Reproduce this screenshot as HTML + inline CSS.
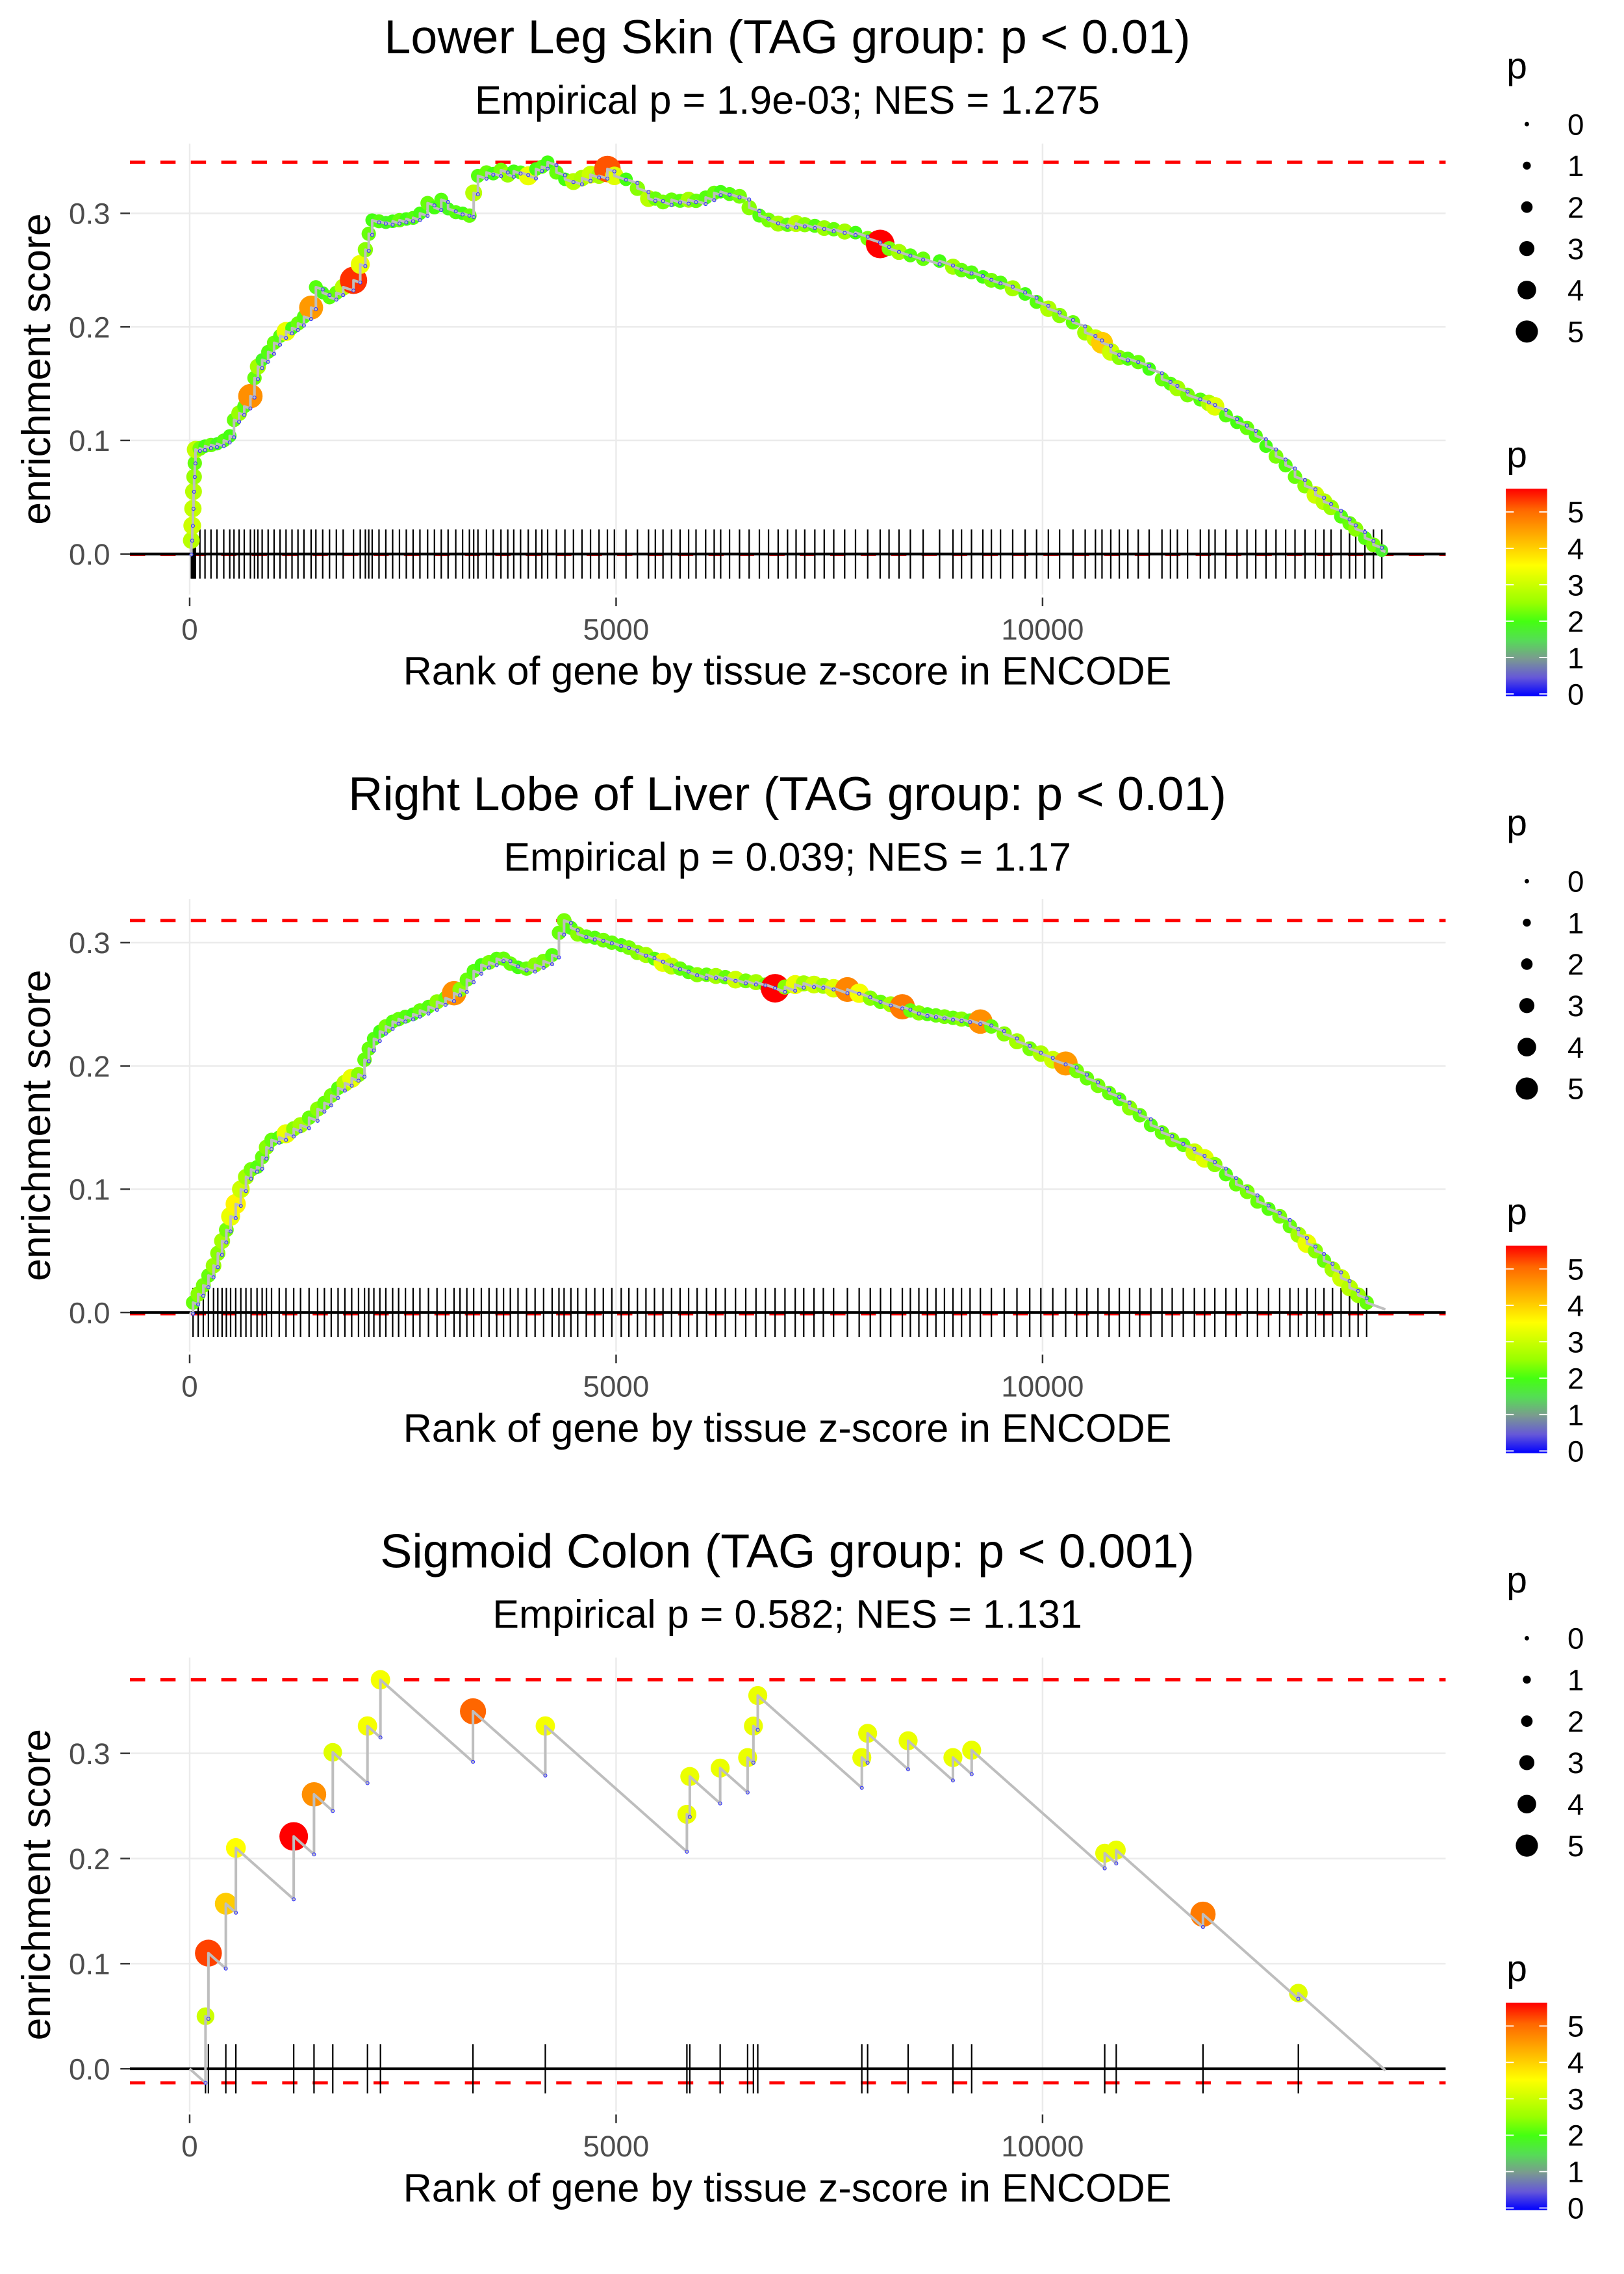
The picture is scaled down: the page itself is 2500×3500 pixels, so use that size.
<!DOCTYPE html>
<html><head><meta charset="utf-8"><style>
html,body{margin:0;padding:0;background:#fff;}
svg{display:block;font-family:"Liberation Sans",sans-serif;}
</style></head><body>
<svg id="chart" xmlns="http://www.w3.org/2000/svg" width="2500" height="3500" viewBox="0 0 1120 1568">
<defs>
<linearGradient id="pgrad" x1="0" y1="1" x2="0" y2="0">
<stop offset="0" stop-color="#0000ff"/><stop offset="0.09" stop-color="#6658d8"/>
<stop offset="0.18" stop-color="#7a9a90"/><stop offset="0.27" stop-color="#55dd55"/>
<stop offset="0.36" stop-color="#44ff11"/><stop offset="0.45" stop-color="#99ff00"/>
<stop offset="0.54" stop-color="#ccff00"/><stop offset="0.63" stop-color="#ffff00"/>
<stop offset="0.72" stop-color="#ffcc00"/><stop offset="0.81" stop-color="#ff9900"/>
<stop offset="0.9" stop-color="#ff6600"/><stop offset="1" stop-color="#ff0000"/>
</linearGradient>
</defs>
</svg>
<script>
// ---- Panel 1: Lower Leg Skin ----
const ranks1=[20,30,38,45,52,60,68,120,180,250,320,400,470,520,580,640,712,760,800,850,920,990,1060,1130,1200,1270,1340,1424,1480,1560,1640,1720,1800,1921,2000,2060,2100,2140,2220,2300,2380,2460,2540,2620,2700,2790,2870,2950,3030,3120,3200,3280,3330,3380,3480,3560,3650,3730,3800,3880,3970,4060,4130,4197,4300,4400,4500,4600,4700,4800,4898,4980,5116,5250,5380,5460,5550,5650,5750,5850,5937,6050,6150,6226,6330,6447,6560,6680,6787,6900,7010,7110,7212,7330,7440,7552,7680,7807,7950,8096,8200,8317,8450,8600,8793,8950,9050,9167,9300,9400,9507,9650,9796,9930,10068,10200,10357,10500,10620,10697,10800,10900,11000,11122,11250,11400,11500,11581,11700,11850,11950,12023,12150,12280,12397,12500,12620,12737,12850,12960,13077,13200,13300,13383,13500,13600,13672,13780,13880,13978];
const es1=[.012,.025,.04,.055,.068,.08,.092,.093,.095,.096,.097,.1,.104,.118,.124,.13,.139,.155,.165,.171,.178,.186,.192,.196,.199,.203,.209,.217,.235,.23,.226,.23,.235,.241,.255,.268,.282,.294,.293,.292,.293,.294,.295,.296,.3,.309,.305,.312,.304,.301,.3,.298,.318,.333,.336,.335,.338,.334,.337,.336,.333,.339,.341,.345,.336,.33,.328,.331,.334,.333,.339,.333,.33,.322,.313,.313,.31,.312,.311,.312,.311,.314,.318,.319,.317,.315,.305,.298,.294,.291,.29,.291,.29,.289,.287,.286,.284,.283,.278,.273,.269,.266,.263,.26,.258,.253,.25,.248,.244,.241,.239,.234,.229,.222,.216,.21,.204,.195,.19,.186,.178,.173,.172,.169,.163,.154,.15,.146,.14,.136,.133,.13,.122,.116,.111,.104,.095,.086,.078,.068,.06,.052,.046,.041,.033,.027,.022,.014,.008,.003];
const pv1=[2.8,3,2.9,2.8,2.5,2.2,2.9,2.3,2,2.2,1.9,2.1,2,2.2,2.5,2.1,4.6,2.2,2.6,1.9,2.1,2.2,2.1,3.3,2,2.2,2.1,4.5,2.1,1.9,2.1,2.2,2.8,5.3,3.3,2.4,2.2,2,2.1,1.9,2,2.2,2,2.1,2,2.2,2,2.1,1.9,2.1,2,2.2,2.8,2.1,2.2,2,2.3,2.5,2,2.1,3.3,2,2.1,2,2.2,2,2.8,2.7,3,2.6,5.1,3.2,2,2.4,2.8,2.2,2.3,2.2,2.1,2.6,2.2,2.1,2.2,2,2.1,2.3,2.4,2.1,2.3,2.6,2.2,2.8,2.4,2.1,2.5,2.2,2.6,2,2.3,5.6,2.3,2.6,2.1,2.2,2,2.6,2.2,2.1,2,2.3,2.1,2.6,2,2.1,2.7,2.4,2.2,2.6,3,4,3,2.4,2.1,2.2,2,2.2,2.1,2.6,2.3,2.1,2.7,3.2,2.1,2,2.2,2.1,2,2.3,2.1,2.2,2.4,3,2.8,2.5,2.1,2.2,2.4,2.1,2.3,1.8];

// ---- Panel 2: Right Lobe of Liver ----
const ranks2=[40,100,160,220,280,330,380,430,480,540,600,660,720,790,850,900,960,1050,1130,1220,1300,1400,1500,1580,1660,1740,1820,1900,1980,2050,2100,2160,2230,2300,2380,2450,2530,2620,2700,2800,2900,3000,3100,3170,3250,3330,3420,3510,3600,3680,3760,3850,3950,4050,4150,4250,4330,4390,4470,4550,4650,4750,4850,4950,5060,5150,5250,5350,5450,5550,5650,5750,5850,5950,6060,6170,6280,6400,6520,6640,6750,6864,6980,7100,7200,7320,7430,7550,7712,7850,7980,8100,8220,8356,8450,8550,8650,8750,8850,8950,9050,9150,9271,9400,9550,9700,9850,9980,10120,10271,10400,10520,10650,10780,10900,11020,11140,11270,11400,11520,11650,11780,11900,12020,12150,12270,12400,12520,12650,12780,12900,13000,13100,13200,13300,13400,13500,13600,13700,13800];
const es2=[.008,.015,.022,.03,.038,.048,.058,.067,.078,.088,.1,.11,.116,.118,.126,.134,.14,.142,.145,.149,.152,.158,.165,.17,.176,.182,.186,.19,.193,.205,.214,.222,.228,.232,.236,.238,.24,.242,.245,.248,.252,.255,.259,.262,.27,.277,.282,.284,.287,.287,.283,.28,.279,.282,.285,.29,.308,.318,.312,.307,.305,.304,.302,.3,.298,.296,.292,.29,.287,.284,.281,.279,.276,.274,.274,.273,.272,.27,.269,.268,.266,.263,.264,.266,.267,.266,.265,.263,.262,.259,.255,.252,.25,.248,.245,.243,.242,.241,.24,.239,.238,.237,.236,.232,.226,.22,.214,.21,.205,.202,.196,.19,.184,.178,.173,.166,.16,.152,.146,.14,.136,.13,.125,.12,.112,.104,.098,.09,.084,.078,.07,.063,.056,.05,.042,.035,.028,.02,.014,.008];
const pv2=[2.2,2.4,2.3,2.2,2.5,2.4,2.6,2.3,3.3,3.6,3,2.6,2.3,2.1,2.2,2.4,2.2,2.1,3.3,2.4,2.6,2.2,2.4,2.2,2.3,2.1,2.8,3.3,2.4,2.2,2.2,2.1,2,2.3,2.1,2.2,2.1,2,2.2,2.1,2.4,2.2,4.6,2.4,2.2,2.1,2,2.3,2.1,2.2,2.2,2,2.2,2.4,2.3,2.1,2.2,2.3,2.1,2.4,2.2,2.1,2.3,2.2,2.1,2.3,2.4,2.6,2.1,3.3,2.8,2.2,2.1,2.4,2.2,2.6,2.2,3,2.3,2.6,2.2,5.6,2.4,3.3,2.6,3,2.6,3.2,4.7,3.4,2.4,2.2,2.6,4.8,2.2,2.4,2.1,2.2,2.3,2.2,2.4,2.1,4.6,2.2,2.4,2.6,2.3,2.7,3,4.5,2.3,2.2,2.3,2.2,2.1,2.4,2.2,2.1,2.2,2.3,2.2,3,3.2,2.4,2.1,2.2,2.3,2.2,2.1,2.3,2.2,2.6,3.3,2.4,2.2,2.6,3,2.8,2.5,2.2];

// ---- Panel 3: Sigmoid Colon ----
const ranks3=[186,220,424,542,1220,1458,1678,2085,2237,3322,4170,5830,5864,6220,6542,6610,6661,7881,7949,8424,8949,9169,10729,10864,11881,12999];
const es3=[.05,.11,.157,.21,.221,.261,.301,.326,.37,.34,.326,.242,.278,.286,.296,.326,.355,.296,.319,.312,.296,.303,.205,.208,.147,.072];
const pv3=[3,5.2,4,3.5,5.6,4.6,3.2,3.4,3.4,5,3.4,3.3,3.3,3.3,3.3,3.3,3.3,3.3,3.3,3.3,3.3,3.3,3.3,3.3,4.8,3.2];

const titles=["Lower Leg Skin (TAG group: p < 0.01)","Right Lobe of Liver (TAG group: p < 0.01)","Sigmoid Colon (TAG group: p < 0.001)"];
const subtitles=["Empirical p = 1.9e-03; NES = 1.275","Empirical p = 0.039; NES = 1.17","Empirical p = 0.582; NES = 1.131"];
const xTicks=[0,5000,10000];
const yTicks=[0,0.1,0.2,0.3];
const yTickLabels=["0.0","0.1","0.2","0.3"];
const sizeLegend=[0,1,2,3,4,5];
const totalGenes=14020;

const svg=document.getElementById('chart');
const NS='http://www.w3.org/2000/svg';
function mk(tag,attrs,parent){const e=document.createElementNS(NS,tag);for(const k in attrs)e.setAttribute(k,attrs[k]);(parent||svg).appendChild(e);return e;}

const stops=[[0,[0,0,255]],[0.5,[102,88,216]],[1,[122,154,144]],[1.5,[85,221,85]],[2,[68,255,17]],[2.5,[153,255,0]],[3,[204,255,0]],[3.5,[255,255,0]],[4,[255,204,0]],[4.5,[255,153,0]],[5,[255,102,0]],[5.57,[255,0,0]]];
function pColor(p){p=Math.max(0,Math.min(5.57,p));for(let i=1;i<stops.length;i++){if(p<=stops[i][0]){const a=stops[i-1],b=stops[i];const t=(p-a[0])/(b[0]-a[0]);const c=a[1].map((v,j)=>Math.round(v+(b[1][j]-v)*t));return 'rgb('+c.join(',')+')';}}return 'rgb(255,0,0)';}
function pRadius(p){return 1.8+1.44*p;}

const panels=[
 {ranks:ranks1,es:es1,pv:pv1,zero:382,k:783,top:99,bottom:410,decline:2.5e-5},
 {ranks:ranks2,es:es2,pv:pv2,zero:905,k:850,top:620,bottom:932,decline:2.5e-5},
 {ranks:ranks3,es:es3,pv:pv3,zero:1426.5,k:725,top:1143,bottom:1456,decline:7.2e-5}
];
const L=89.6,R=997;
function xs(r){return 130.8+r*0.05882;}

panels.forEach((P,pi)=>{
 const off=522*pi;
 const ys=v=>P.zero-v*P.k;
 const g=mk('g',{});
 
 
 let t=mk('text',{x:543,y:36.7+off,'text-anchor':'middle','font-size':33,fill:'#000'},g);t.textContent=titles[pi];
 
 
 t=mk('text',{x:543,y:78.4+off,'text-anchor':'middle','font-size':27.4,fill:'#000'},g);t.textContent=subtitles[pi];
 
 
 yTicks.forEach((v,i)=>{
  const gl=mk('line',{x1:L,x2:R,y1:ys(v),y2:ys(v),stroke:'#ebebeb','stroke-width':1.1},g);
  
  
  const tk=mk('line',{x1:83,x2:89.6,y1:ys(v),y2:ys(v),stroke:'#333','stroke-width':1.1},g);
  
  
  const lb=mk('text',{x:76,y:ys(v)+7.3,'text-anchor':'end','font-size':20.5,fill:'#4d4d4d'},g);lb.textContent=yTickLabels[i];
  
  
 });
 xTicks.forEach(v=>{
  const gl=mk('line',{x1:xs(v),x2:xs(v),y1:P.top,y2:P.bottom,stroke:'#ebebeb','stroke-width':1.1},g);
  
  
  const tk=mk('line',{x1:xs(v),x2:xs(v),y1:P.bottom+2,y2:P.bottom+8,stroke:'#333','stroke-width':1.1},g);
  
  
  const lb=mk('text',{x:xs(v),y:P.bottom+31,'text-anchor':'middle','font-size':20.5,fill:'#4d4d4d'},g);lb.textContent=String(v);
  
  
 });
 t=mk('text',{x:543,y:P.bottom+62,'text-anchor':'middle','font-size':27.4,fill:'#000'},g);t.textContent='Rank of gene by tissue z-score in ENCODE';
 
 
 const cy=(P.top+P.bottom)/2;
 t=mk('text',{x:34.5,y:cy,'text-anchor':'middle','font-size':28,fill:'#000',transform:'rotate(-90 34.5 '+cy+')'},g);t.textContent='enrichment score';
 
 
 const pre=[];let prevR=0,prevE=0;
 P.ranks.forEach((r,i)=>{pre.push(prevE-P.decline*(r-prevR));prevR=r;prevE=P.es[i];});
 const endE=prevE-P.decline*(totalGenes-prevR);
 const maxE=Math.max(...P.es),minE=Math.min(0,...pre,endE);
 [maxE,minE].forEach((v,i)=>{
  const dl=mk('line',{x1:L,x2:R,y1:ys(v),y2:ys(v),stroke:'#ff0000','stroke-width':2.2,'stroke-dasharray':'10.5 10.5'},g);
  
  
 });
 const zl=mk('line',{x1:L,x2:R,y1:ys(0),y2:ys(0),stroke:'#000','stroke-width':1.8},g);
 
 
 P.ranks.forEach(r=>{
  const rl=mk('line',{x1:xs(r),x2:xs(r),y1:ys(0)-17,y2:ys(0)+17,stroke:'#000','stroke-width':1.0},g);
  
  
 });
 P.ranks.forEach((r,i)=>{
  const c=mk('circle',{cx:xs(r),cy:ys(P.es[i]),r:pRadius(P.pv[i]),fill:pColor(P.pv[i])},g);
  
  
 });
 let d='M'+xs(0)+' '+ys(0);
 P.ranks.forEach((r,i)=>{d+=' L'+xs(r)+' '+ys(pre[i])+' L'+xs(r)+' '+ys(P.es[i]);});
 d+=' L'+xs(totalGenes)+' '+ys(endE);
 const pl=mk('path',{d:d,fill:'none',stroke:'#bebebe','stroke-width':1.8,'stroke-linejoin':'round'},g);
 
 
 P.ranks.forEach((r,i)=>{
  const c=mk('circle',{cx:xs(r),cy:ys(pre[i]),r:1.1,fill:'none',stroke:'#3333ff','stroke-width':0.5},g);
  
  
 });
 const lg=mk('g',{},g);
 
 
 t=mk('text',{x:1039,y:54+off,'font-size':25.5,fill:'#000'},lg);t.textContent='p';
 
 
 sizeLegend.forEach((v,j)=>{
  const yy=85.6+28.6*j+off;
  const c=mk('circle',{cx:1053,cy:yy,r:pRadius(v)*0.85,fill:'#000'},lg);
  
  
  const lb=mk('text',{x:1081,y:yy+7.3,'font-size':20.5,fill:'#000'},lg);lb.textContent=String(v);
  
  
 });
 const cg=mk('g',{},g);
 
 
 t=mk('text',{x:1039,y:322+off,'font-size':25.5,fill:'#000'},cg);t.textContent='p';
 
 
 const bar=mk('rect',{x:1038.5,y:337+off,width:28.5,height:143,fill:'url(#pgrad)'},cg);
 
 
 sizeLegend.forEach(v=>{
  const yy=478.5-25.1*v+off;
  mk('line',{x1:1038.5,x2:1044,y1:yy,y2:yy,stroke:'#fff','stroke-width':0.8},cg);
  mk('line',{x1:1061.5,x2:1067,y1:yy,y2:yy,stroke:'#fff','stroke-width':0.8},cg);
  const lb=mk('text',{x:1081,y:yy+7.3,'font-size':20.5,fill:'#000'},cg);lb.textContent=String(v);
  
  
 });
});
</script>
</body></html>
